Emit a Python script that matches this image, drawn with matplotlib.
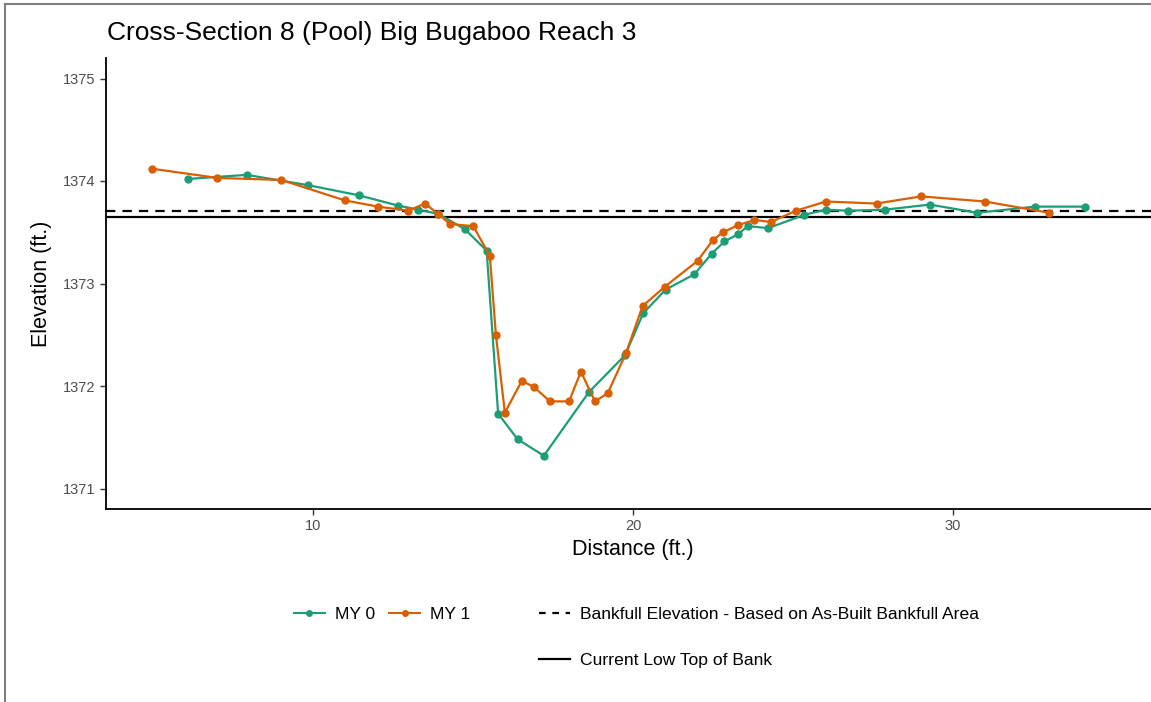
import matplotlib
matplotlib.use('Agg')
import matplotlib.pyplot as plt
from matplotlib.lines import Line2D

plt.rcParams['font.family'] = ['Liberation Sans', 'DejaVu Sans']

# MY 0 survey (distance, elevation)
my0_x = [6.08, 7.91, 9.82, 11.43, 12.65, 13.28, 13.9, 14.74, 15.42, 15.78, 16.39, 17.21,
         18.62, 19.75, 20.32, 21.02, 21.92, 22.46, 22.86, 23.28, 23.6, 24.23, 25.36, 26.03,
         26.74, 27.88, 29.29, 30.77, 32.58, 34.14]
my0_y = [1374.02, 1374.06, 1373.96, 1373.86, 1373.76, 1373.72, 1373.68, 1373.53, 1373.32, 1371.73,
         1371.48, 1371.32, 1371.94, 1372.3, 1372.71, 1372.94, 1373.09, 1373.29, 1373.41, 1373.48,
         1373.56, 1373.54, 1373.67, 1373.72, 1373.71, 1373.72, 1373.77, 1373.69, 1373.75, 1373.75]

# MY 1 survey
my1_x = [4.95, 6.99, 9.0, 10.99, 12.03, 12.97, 13.49, 13.9, 14.27, 15.0, 15.52, 15.71, 15.99,
         16.52, 16.9, 17.4, 18.0, 18.37, 18.81, 19.21, 19.78, 20.3, 21.0, 22.02, 22.49, 22.81,
         23.3, 23.8, 24.32, 25.1, 26.03, 27.62, 29.01, 31.01, 33.02]
my1_y = [1374.12, 1374.03, 1374.01, 1373.81, 1373.75, 1373.71, 1373.78, 1373.68, 1373.58, 1373.56,
         1373.27, 1372.5, 1371.74, 1372.05, 1371.99, 1371.85, 1371.85, 1372.14, 1371.85, 1371.93,
         1372.32, 1372.78, 1372.97, 1373.22, 1373.42, 1373.5, 1373.57, 1373.62, 1373.6, 1373.71,
         1373.8, 1373.78, 1373.85, 1373.8, 1373.69]

bankfull = 1373.71
low_tob = 1373.65

green = '#1B9E77'
orange = '#D95F02'
dash = (0, (4.2, 3.2))

fig = plt.figure(figsize=(11.51, 7.02), dpi=100)
ax = fig.add_axes([106 / 1151, 1 - 509 / 702, (1160 - 106) / 1151, (509 - 58) / 702])

ax.axhline(bankfull, color='black', lw=1.6, ls=dash)
ax.axhline(low_tob, color='black', lw=1.6)
ax.plot(my0_x, my0_y, color=green, lw=1.6, marker='o', ms=5)
ax.plot(my1_x, my1_y, color=orange, lw=1.6, marker='o', ms=5)

ax.set_xlim(3.51, 36.49)
ax.set_ylim(1370.8, 1375.2)
ax.set_xticks([10, 20, 30])
ax.set_yticks([1371, 1372, 1373, 1374, 1375])
ax.ticklabel_format(useOffset=False, style='plain', axis='y')
for s in ['top', 'right']:
    ax.spines[s].set_visible(False)
for s in ['left', 'bottom']:
    ax.spines[s].set_linewidth(1.3)
ax.tick_params(length=4, width=1, color='#333333', labelcolor='#4D4D4D', labelsize=10.5)

ax.set_xlabel('Distance (ft.)', fontsize=15.5, labelpad=4)
ax.set_ylabel('Elevation (ft.)', fontsize=15.5, labelpad=8)
fig.text(107 / 1151, 1 - 33 / 702, 'Cross-Section 8 (Pool) Big Bugaboo Reach 3',
         fontsize=19, va='center', ha='left')

h0 = Line2D([], [], color=green, lw=1.5, marker='o', ms=4)
h1 = Line2D([], [], color=orange, lw=1.5, marker='o', ms=4)
hb = Line2D([], [], color='black', lw=1.6, ls=(0, (3, 3)))
hs = Line2D([], [], color='black', lw=1.6)
common = dict(frameon=False, fontsize=12.6, borderpad=0, borderaxespad=0,
              handlelength=1.75, handletextpad=0.6, loc='center left')
fig.legend([h0, h1], ['MY 0', 'MY 1'], ncol=2, columnspacing=0.8,
           bbox_to_anchor=(294 / 1151, 1 - 614 / 702), **common)
fig.legend([hb], ['Bankfull Elevation - Based on As-Built Bankfull Area'],
           bbox_to_anchor=(539 / 1151, 1 - 614 / 702), **common)
fig.legend([hs], ['Current Low Top of Bank'],
           bbox_to_anchor=(539 / 1151, 1 - 660 / 702), **common)

# figure frame (left and top edges visible)
fig.add_artist(Line2D([4.5 / 1151, 4.5 / 1151], [0, 1 - 4 / 702], color='#7F7F7F', lw=1.5))
fig.add_artist(Line2D([4.5 / 1151, 1], [1 - 4 / 702, 1 - 4 / 702], color='#7F7F7F', lw=1.5))

fig.savefig('out.png', dpi=100)
